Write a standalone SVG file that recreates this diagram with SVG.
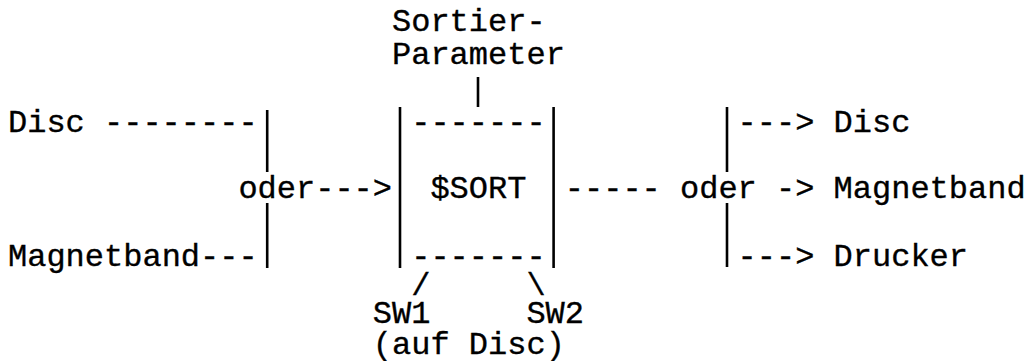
<svg xmlns="http://www.w3.org/2000/svg" width="1030" height="361" viewBox="0 0 1030 361">
<style>
text{font-family:"Liberation Mono","Courier New",monospace;font-size:32px;fill:#000;stroke:#000;stroke-width:0.35}
.pipe{stroke:#000;stroke-width:2.6;fill:none}
</style>
<rect width="1030" height="361" fill="#fff"/>
<g id="connectors">
  <line class="pipe" x1="478" y1="77" x2="478" y2="107"/>
  <text x="104" y="132">--------</text>
  <line class="pipe" x1="267.2" y1="110" x2="267.2" y2="172"/>
  <line class="pipe" x1="267.2" y1="203" x2="267.2" y2="268"/>
  <text x="200" y="266">---</text>
  <text x="315.2" y="198">---&gt;</text>
  <text x="564.8" y="198">-----</text>
  <line class="pipe" x1="727" y1="107" x2="727" y2="172"/>
  <line class="pipe" x1="727" y1="203" x2="727" y2="267"/>
  <text x="737.6" y="132">---&gt;</text>
  <text x="776" y="198">-&gt;</text>
  <text x="737.6" y="266">---&gt;</text>
  <text x="411.2" y="295">/</text>
  <text x="526.4" y="295">\</text>
</g>
<g id="param">
  <text x="392" y="31">Sortier-</text>
  <text x="392" y="64">Parameter</text>
</g>
<g id="in-disc"><text x="8" y="132">Disc</text></g>
<g id="in-band"><text x="8" y="266">Magnetband</text></g>
<g id="oder-in"><text x="238.4" y="198">oder</text></g>
<g id="sort">
  <line class="pipe" x1="400" y1="107" x2="400" y2="268"/>
  <line class="pipe" x1="553.6" y1="107" x2="553.6" y2="268"/>
  <text x="411.2" y="132">-------</text>
  <text x="411.2" y="266">-------</text>
  <text x="430.4" y="198">$SORT</text>
</g>
<g id="oder-out"><text x="680" y="198">oder</text></g>
<g id="out-disc"><text x="833.6" y="132">Disc</text></g>
<g id="out-band"><text x="833.6" y="198">Magnetband</text></g>
<g id="out-drucker"><text x="833.6" y="266">Drucker</text></g>
<g id="sw1">
  <text x="372.8" y="323">SW1</text>
  <text x="372.8" y="354">(auf Disc)</text>
</g>
<g id="sw2"><text x="526.4" y="323">SW2</text></g>
</svg>
